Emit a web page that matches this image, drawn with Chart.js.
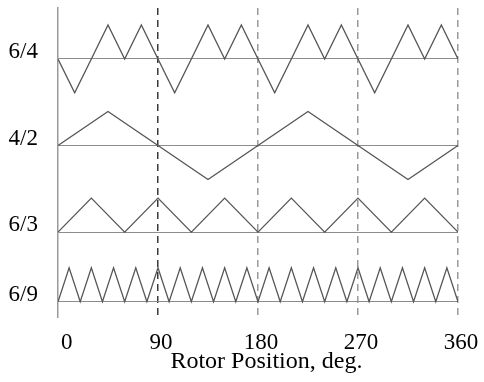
<!DOCTYPE html>
<html>
<head>
<meta charset="utf-8">
<script src="https://cdn.jsdelivr.net/npm/chart.js@4"></script>
<style>
  body { margin: 0; background: #fff; }
</style>
</head>
<body>
<canvas id="myChart" width="484" height="382"></canvas>
<script>
// pole combinations, top to bottom, and where each trace sits on the y scale
const machines = ['6/4', '4/2', '6/3', '6/9']
const baselines = [7.6, 5.05, 2.5, 0.45]

// rotor angles (deg) and normalised inductance-profile levels
const angle64 = [0, 15, 30, 45, 60, 75, 90, 105, 120, 135, 150, 165, 180, 195, 210, 225, 240, 255, 270, 285, 300, 315, 330, 345, 360]
const level64 = [0, -1, 0, 1, 0, 1, 0, -1, 0, 1, 0, 1, 0, -1, 0, 1, 0, 1, 0, -1, 0, 1, 0, 1, 0]

const angle42 = [0, 45, 135, 225, 315, 360]
const level42 = [0, 1, -1, 1, -1, 0]

const angle63 = [0, 30, 60, 90, 120, 150, 180, 210, 240, 270, 300, 330, 360]
const level63 = [0, 1, 0, 1, 0, 1, 0, 1, 0, 1, 0, 1, 0]

const angle69 = [0, 10, 20, 30, 40, 50, 60, 70, 80, 90, 100, 110, 120, 130, 140, 150, 160, 170, 180, 190, 200, 210, 220, 230, 240, 250, 260, 270, 280, 290, 300, 310, 320, 330, 340, 350, 360]
const level69 = [0, 1, 0, 1, 0, 1, 0, 1, 0, 1, 0, 1, 0, 1, 0, 1, 0, 1, 0, 1, 0, 1, 0, 1, 0, 1, 0, 1, 0, 1, 0, 1, 0, 1, 0, 1, 0]

const xTicks = [0, 90, 180, 270, 360]

const traces = [
  [angle64, level64],
  [angle42, level42],
  [angle63, level63],
  [angle69, level69]
]

const serif = 'Liberation Serif, Times New Roman, serif'

const data = {
  datasets: traces.map(([angles, levels], i) => ({
    label: machines[i],
    data: angles.map((a, j) => ({ x: a, y: baselines[i] + levels[j] })),
    borderColor: '#555',
    borderWidth: 1.3,
    pointRadius: 0,
    tension: 0,
    fill: false
  }))
}

const config = {
  type: 'line',
  data: data,
  options: {
    responsive: false,
    animation: false,
    layout: { padding: { left: 0, right: 26, top: 8, bottom: 0 } },
    plugins: {
      legend: { display: false },
      tooltip: { enabled: false }
    },
    scales: {
      x: {
        type: 'linear',
        min: 0,
        max: 360,
        afterBuildTicks: scale => {
          scale.ticks = xTicks.map(v => ({ value: v }))
        },
        afterFit: scale => {
          scale.height = 65
          scale.paddingLeft = 0
          scale.paddingRight = 0
        },
        grid: {
          drawTicks: false,
          tickLength: 0,
          lineWidth: 1.5,
          color: ctx => {
            const v = ctx.tick && ctx.tick.value
            if (v === 0) return 'rgba(0,0,0,0)'
            if (v === 90) return '#3a3a3a'
            return '#9a9a9a'
          }
        },
        border: { display: false, dash: [7, 5] },
        ticks: {
          padding: 12,
          labelOffset: 3,
          maxRotation: 0,
          color: '#000',
          font: { family: serif, size: 23 },
          // the first label sits a little right of the axis in the source
          callback: value => (value === 0 ? '\u20020' : String(value))
        },
        title: {
          display: true,
          text: '\u2002\u2009Rotor Position, deg.',
          color: '#000',
          font: { family: serif, size: 24 },
          padding: { top: 0, bottom: 6 }
        }
      },
      y: {
        type: 'linear',
        min: 0,
        max: 9.1,
        afterBuildTicks: scale => {
          scale.ticks = baselines.map(v => ({ value: v }))
        },
        afterFit: scale => {
          scale.width = 58
          scale.paddingTop = 0
          scale.paddingBottom = 0
        },
        grid: {
          drawTicks: false,
          tickLength: 0,
          lineWidth: 1,
          color: '#8c8c8c'
        },
        border: { display: true, color: '#9a9a9a', width: 1.5 },
        ticks: {
          padding: 20,
          labelOffset: -7,
          color: '#000',
          font: { family: serif, size: 23 },
          callback: value => machines[baselines.indexOf(value)]
        }
      }
    }
  }
}

const chart = new Chart(document.getElementById('myChart'), config)
</script>
</body>
</html>
